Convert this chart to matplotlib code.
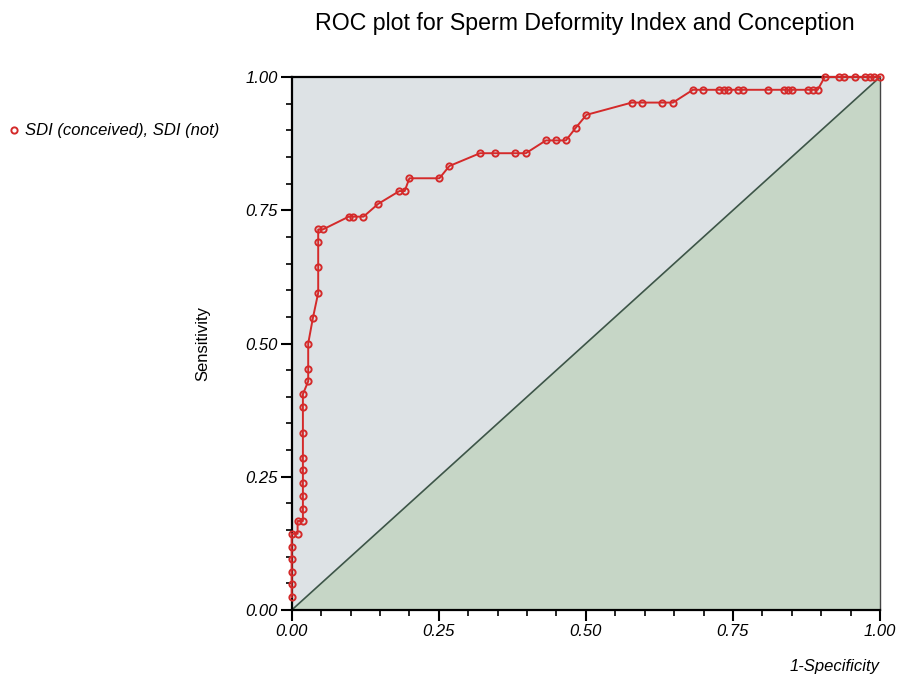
import matplotlib
matplotlib.use("Agg")
import matplotlib.pyplot as plt
from matplotlib.lines import Line2D
from matplotlib.ticker import MultipleLocator, FormatStrFormatter

plt.rcParams['font.family'] = ['Liberation Sans', 'DejaVu Sans']

# ROC points
fpr = [0.0, 0.0, 0.0, 0.0, 0.0, 0.0, 0.010, 0.010, 0.019, 0.019,
       0.019, 0.019, 0.019, 0.019, 0.019, 0.019, 0.019, 0.028, 0.028, 0.028,
       0.036, 0.045, 0.045, 0.045, 0.045, 0.053, 0.097, 0.105, 0.122, 0.147,
       0.183, 0.192, 0.200, 0.251, 0.268, 0.320, 0.346, 0.380, 0.398, 0.432,
       0.449, 0.466, 0.483, 0.501, 0.578, 0.595, 0.630, 0.648, 0.682, 0.699,
       0.726, 0.734, 0.742, 0.759, 0.767, 0.810, 0.836, 0.844, 0.851, 0.878,
       0.886, 0.894, 0.906, 0.931, 0.939, 0.958, 0.975, 0.983, 0.990, 1.0]
sens = [0.024, 0.048, 0.071, 0.095, 0.119, 0.143, 0.143, 0.167, 0.167, 0.190,
        0.214, 0.238, 0.262, 0.286, 0.333, 0.381, 0.405, 0.429, 0.452, 0.500,
        0.548, 0.595, 0.643, 0.690, 0.714, 0.714, 0.738, 0.738, 0.738, 0.762,
        0.786, 0.786, 0.810, 0.810, 0.833, 0.857, 0.857, 0.857, 0.857, 0.881,
        0.881, 0.881, 0.905, 0.929, 0.952, 0.952, 0.952, 0.952, 0.976, 0.976,
        0.976, 0.976, 0.976, 0.976, 0.976, 0.976, 0.976, 0.976, 0.976, 0.976,
        0.976, 0.976, 1.0, 1.0, 1.0, 1.0, 1.0, 1.0, 1.0, 1.0]

red = '#d42a2a'

fig = plt.figure(figsize=(8.99, 6.76), dpi=100)
ax = fig.add_axes([0.3245, 0.0976, 0.6544, 0.7885])

# shaded regions above / below the chance line
ax.set_facecolor('#dde2e5')
ax.fill_between([0, 1], [0, 0], [0, 1], color='#c6d6c6', zorder=1)
ax.plot([0, 1], [0, 1], color='#3d5548', lw=1.2, zorder=2)

ax.plot(fpr, sens, color=red, lw=1.4, marker='o', ms=4.5, mfc='none',
        mew=1.4, zorder=3, clip_on=False)

ax.set_xlim(0, 1)
ax.set_ylim(0, 1)
ax.xaxis.set_major_locator(MultipleLocator(0.25))
ax.yaxis.set_major_locator(MultipleLocator(0.25))
ax.xaxis.set_minor_locator(MultipleLocator(0.05))
ax.yaxis.set_minor_locator(MultipleLocator(0.05))
ax.xaxis.set_major_formatter(FormatStrFormatter('%.2f'))
ax.yaxis.set_major_formatter(FormatStrFormatter('%.2f'))
ax.tick_params(which='major', direction='out', length=8, width=1.5, labelsize=12, pad=2)
ax.tick_params(which='minor', direction='out', length=4, width=1.2)
for lab in ax.get_xticklabels() + ax.get_yticklabels():
    lab.set_fontstyle('italic')

for side in ['left', 'bottom', 'top']:
    ax.spines[side].set_linewidth(1.6)
    ax.spines[side].set_color('black')
ax.spines['right'].set_linewidth(1.0)
ax.spines['right'].set_color('#444444')

ax.set_ylabel('Sensitivity', fontsize=12)
ax.yaxis.set_label_coords(-0.138, 0.5)
ax.set_xlabel('1-Specificity', loc='right', fontsize=12, style='italic')
ax.xaxis.set_label_coords(1.0, -0.092)

fig.text(0.651, 1 - 30 / 676, 'ROC plot for Sperm Deformity Index and Conception',
         ha='center', va='baseline', fontsize=16.7)

handle = Line2D([], [], color=red, lw=0, marker='o', ms=4.5, mfc='none', mew=1.4)
fig.legend([handle], ['SDI (conceived), SDI (not)'], loc='center left',
           bbox_to_anchor=(-0.007, 1 - 131 / 676), frameon=False,
           handlelength=0.6, handletextpad=0.4, prop={'size': 12, 'style': 'italic'})

fig.savefig('out.png', dpi=100)
